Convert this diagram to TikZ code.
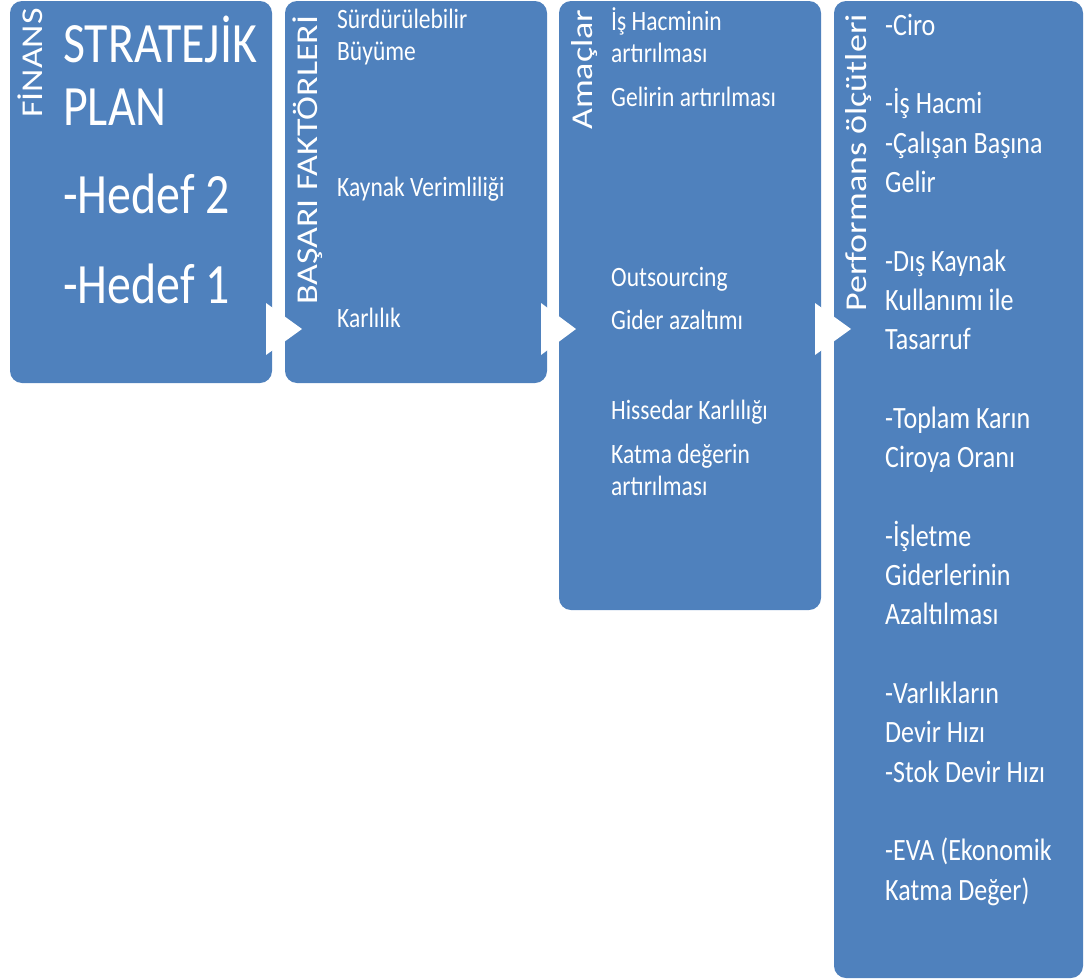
\documentclass[tikz,border=0pt]{standalone}
\usepackage{fontspec}
\setmainfont{Carlito}[FakeStretch=0.84]
\newfontfamily\titlefont{Carlito}
\pgfdeclarelayer{panellayer}
\pgfsetlayers{panellayer,main}
\definecolor{boxblue}{HTML}{4F81BD}
\tikzstyle{panel}=[rectangle,rounded corners=12pt,fill=boxblue,inner sep=0pt]
\tikzstyle{chevron}=[fill=white]
\tikzstyle{paneltitle}=[anchor=base west,inner sep=0pt,text=white,rotate=90,yscale=0.84,font=\titlefont\fontsize{36}{40}\selectfont]
\tikzstyle{bigtext}=[anchor=base west,inner sep=0pt,text=white,font=\fontsize{57}{62}\selectfont]
\tikzstyle{itemtext}=[anchor=base west,inner sep=0pt,text=white,font=\fontsize{28}{32}\selectfont]
\tikzstyle{measuretext}=[anchor=base west,inner sep=0pt,text=white,font=\fontsize{31}{39}\selectfont]

\begin{document}
\begin{tikzpicture}[x=1pt,y=-1pt]
	\useasboundingbox (0,0) rectangle (1085,980);
	\begin{pgfonlayer}{panellayer}
		\node [style=panel, minimum width=262, minimum height=382] (p1) at (141, 192) {};
		\node [style=panel, minimum width=262, minimum height=382] (p2) at (416, 192) {};
		\node [style=panel, minimum width=262, minimum height=609] (p3) at (690, 305.5) {};
		\node [style=panel, minimum width=249, minimum height=977] (p4) at (958.5, 489.5) {};
	\end{pgfonlayer}
	% arrows between the panels
	\fill [style=chevron] (266, 303) -- (302, 329) -- (266, 355) -- cycle;
	\fill [style=chevron] (541, 303) -- (576, 329) -- (541, 355) -- cycle;
	\fill [style=chevron] (815, 303) -- (851, 329) -- (815, 355) -- cycle;
	% panel titles
	\node [style=paneltitle] (t1) at (42, 118) {FİNANS};
	\node [style=paneltitle] (t2) at (317, 305) {BAŞARI FAKTÖRLERİ};
	\node [style=paneltitle] (t3) at (592, 130) {Amaçlar};
	\node [style=paneltitle] (t4) at (866, 312) {Performans ölçütleri};
	% panel 1
	\node [style=bigtext] (0) at (63, 62) {STRATEJİK};
	\node [style=bigtext] (1) at (63, 125) {PLAN};
	\node [style=bigtext] (2) at (63, 213) {-Hedef 2};
	\node [style=bigtext] (3) at (63, 303) {-Hedef 1};
	% panel 2
	\node [style=itemtext] (4) at (337, 28) {Sürdürülebilir};
	\node [style=itemtext] (5) at (337, 60) {Büyüme};
	\node [style=itemtext] (6) at (337, 196) {Kaynak Verimliliği};
	\node [style=itemtext] (7) at (337, 327) {Karlılık};
	% panel 3
	\node [style=itemtext] (8) at (611, 30) {İş Hacminin};
	\node [style=itemtext] (9) at (611, 62) {artırılması};
	\node [style=itemtext] (10) at (611, 106) {Gelirin artırılması};
	\node [style=itemtext] (11) at (611, 286) {Outsourcing};
	\node [style=itemtext] (12) at (611, 329) {Gider azaltımı};
	\node [style=itemtext] (13) at (611, 419) {Hissedar Karlılığı};
	\node [style=itemtext] (14) at (611, 463) {Katma değerin};
	\node [style=itemtext] (15) at (611, 495) {artırılması};
	% panel 4
	\node [style=measuretext] (16) at (885, 35) {-Ciro};
	\node [style=measuretext] (17) at (885, 113.6) {-İş Hacmi};
	\node [style=measuretext] (18) at (885, 153) {-Çalışan Başına};
	\node [style=measuretext] (19) at (885, 192) {Gelir};
	\node [style=measuretext] (20) at (885, 271) {-Dış Kaynak};
	\node [style=measuretext] (21) at (885, 310) {Kullanımı ile};
	\node [style=measuretext] (22) at (885, 349.6) {Tasarruf};
	\node [style=measuretext] (23) at (885, 428) {-Toplam Karın};
	\node [style=measuretext] (24) at (885, 467.5) {Ciroya Oranı};
	\node [style=measuretext] (25) at (885, 546) {-İşletme};
	\node [style=measuretext] (26) at (885, 585) {Giderlerinin};
	\node [style=measuretext] (27) at (885, 624.5) {Azaltılması};
	\node [style=measuretext] (28) at (885, 703) {-Varlıkların};
	\node [style=measuretext] (29) at (885, 742) {Devir Hızı};
	\node [style=measuretext] (30) at (885, 782) {-Stok Devir Hızı};
	\node [style=measuretext] (31) at (885, 860) {-EVA (Ekonomik};
	\node [style=measuretext] (32) at (885, 900) {Katma Değer)};
\end{tikzpicture}
\end{document}
